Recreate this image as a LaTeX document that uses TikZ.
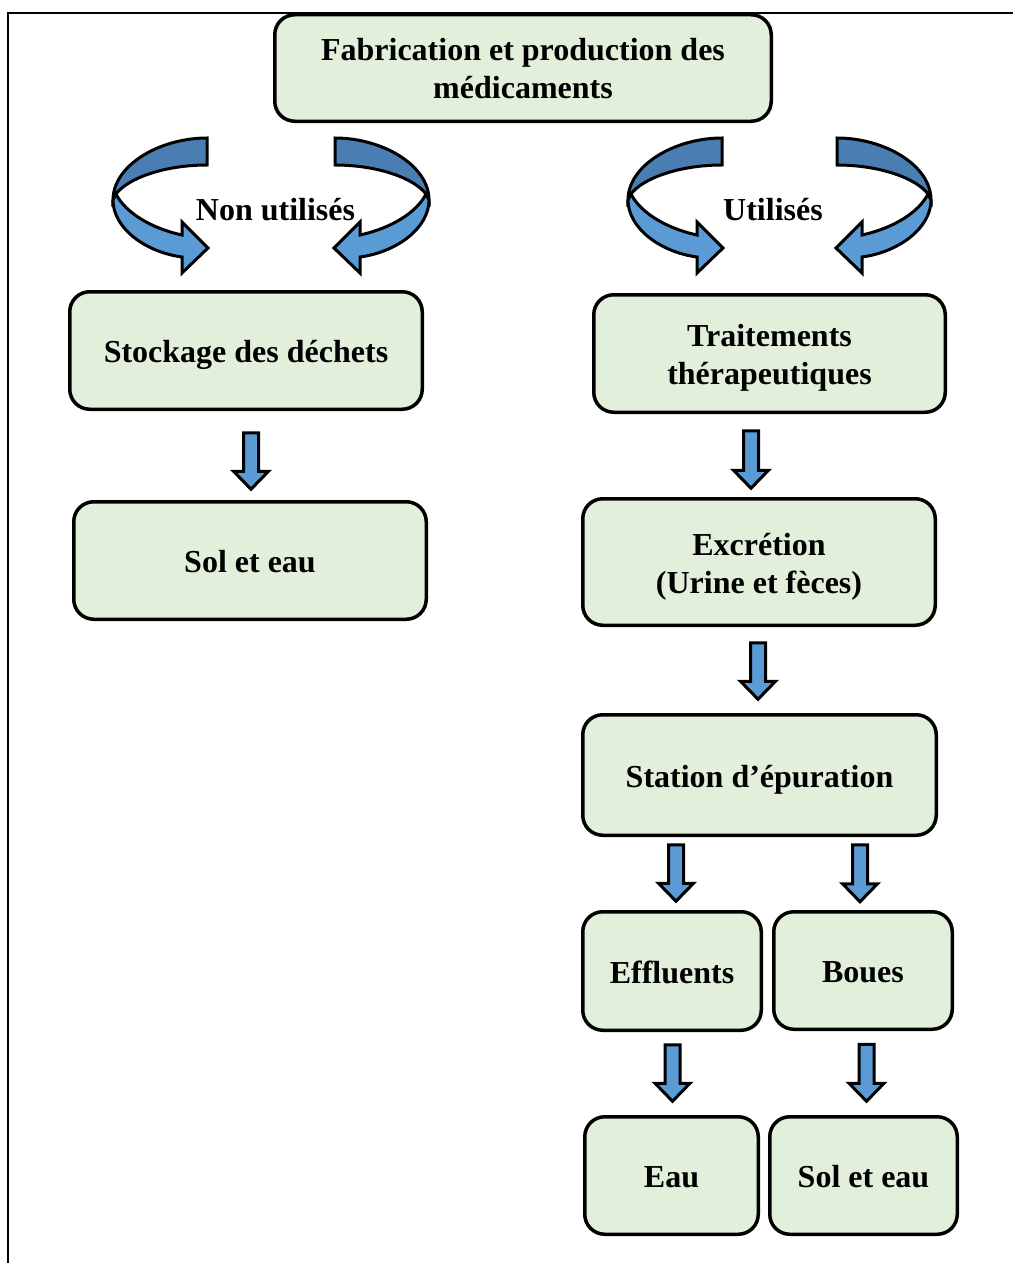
\documentclass[tikz,border=0pt]{standalone}
\usepackage{fontspec}
\setmainfont{Liberation Serif}
\usetikzlibrary{calc}
\definecolor{boxgreen}{HTML}{E2EFDA}
\definecolor{arrowblue}{HTML}{5B9BD5}
\definecolor{arrowdark}{HTML}{4A7EB3}
\newcommand{\topstrut}{\rule{0pt}{32pt}}
\newcommand{\botstrut}{\rule[-8pt]{0pt}{0pt}}
\tikzset{
  flowbox/.style={draw=black, line width=3.5pt, fill=boxgreen, rounded corners=20pt,
    align=center, inner sep=0pt, font=\fontsize{32}{38}\selectfont\bfseries},
  blockarrow/.style={draw=black, line width=3pt, fill=arrowblue, line join=miter,
    to path={let \p1=(\tikztostart), \p2=(\tikztotarget) in
      (\x1-7.5pt,\y1) -- (\x1+7.5pt,\y1) -- (\x1+7.5pt,\y2+18pt) -- (\x1+17.5pt,\y2+18pt)
      -- (\x1,\y2) -- (\x1-17.5pt,\y2+18pt) -- (\x1-7.5pt,\y2+18pt) -- cycle}},
  curvedark/.style={draw=black, line width=3pt, fill=arrowdark, line join=miter},
  curvelight/.style={draw=black, line width=3pt, fill=arrowblue, line join=miter},
  lbl/.style={anchor=base, inner sep=0pt, font=\fontsize{32}{38}\selectfont\bfseries}
}
\newcommand{\curvedarrowshape}{%
  \path[curvedark] (0,138) .. controls (-47,138) and (-94,165) .. (-94,200)
    -- (-91,194) .. controls (-79,178) and (-42,165) .. (0,165) -- cycle;
  \path[curvelight] (-94,200) .. controls (-94,228) and (-62,252) .. (-25,257)
    -- (-25,273) -- (1,248) -- (-25,222) -- (-25,235)
    .. controls (-57,228) and (-82,212) .. (-91,194) -- cycle;
}
\begin{document}
\begin{tikzpicture}[x=1pt,y=-1pt]
\useasboundingbox (0,0) rectangle (1013,1263);
\fill[white] (0,0) rectangle (1013,1263);
% frame
\draw[line width=2pt] (8,1263) -- (8,13) -- (1013,13);

% boxes
\node[flowbox, minimum width=496.5pt, minimum height=106.5pt] (top) at (523,68)
  {\topstrut Fabrication et production des\\médicaments\botstrut};
\node[flowbox, minimum width=352.5pt, minimum height=117.5pt] (stock) at (246,350.5)
  {\topstrut Stockage des déchets\botstrut};
\node[flowbox, minimum width=352.5pt, minimum height=117.5pt] (sol1) at (250,560.5)
  {\topstrut Sol et eau\botstrut};
\node[flowbox, minimum width=351.5pt, minimum height=117.5pt] (trait) at (769.5,353.5)
  {\topstrut Traitements\\thérapeutiques\botstrut};
\node[flowbox, minimum width=352.5pt, minimum height=126.5pt] (excr) at (759,562)
  {\topstrut Excrétion\\(Urine et fèces)\botstrut};
\node[flowbox, minimum width=353.5pt, minimum height=120.5pt] (station) at (759.5,775)
  {\topstrut Station d’épuration\botstrut};
\node[flowbox, minimum width=178.5pt, minimum height=118.5pt] (effl) at (672,971)
  {\topstrut Effluents\botstrut};
\node[flowbox, minimum width=178.5pt, minimum height=117.5pt] (boues) at (863,970.5)
  {\topstrut Boues\botstrut};
\node[flowbox, minimum width=173.5pt, minimum height=117.5pt] (eau) at (671.5,1175.5)
  {\topstrut Eau\botstrut};
\node[flowbox, minimum width=187.5pt, minimum height=117.5pt] (sol2) at (863.5,1175.5)
  {\topstrut Sol et eau\botstrut};

% curved arrows
\begin{scope}[shift={(207,0)}]\curvedarrowshape\end{scope}
\begin{scope}[shift={(335,0)},xscale=-1]\curvedarrowshape\end{scope}
\begin{scope}[shift={(722,0)}]\curvedarrowshape\end{scope}
\begin{scope}[shift={(837,0)},xscale=-1]\curvedarrowshape\end{scope}
\node[lbl] (nonutil) at (275.5,220) {Non utilisés};
\node[lbl] (util) at (773,220) {Utilisés};

% block arrows
\draw[blockarrow] ($(stock.south)+(5,21.75)$) to ($(sol1.north)+(1,-10.75)$);
\draw[blockarrow] ($(trait.south)+(-18.5,16.75)$) to ($(excr.north)+(-8,-8.75)$);
\draw[blockarrow] ($(excr.south)+(-1,15.75)$) to ($(station.north)+(-1.5,-13.75)$);
\draw[blockarrow] ($(station.south)+(-83.5,7.75)$) to ($(effl.north)+(4,-8.75)$);
\draw[blockarrow] ($(station.south)+(100.5,7.75)$) to ($(boues.north)+(-3,-8.25)$);
\draw[blockarrow] ($(effl.south)+(0.5,12.75)$) to ($(eau.north)+(1,-13.75)$);
\draw[blockarrow] ($(boues.south)+(3.5,13.25)$) to ($(sol2.north)+(3,-13.75)$);
\end{tikzpicture}
\end{document}
